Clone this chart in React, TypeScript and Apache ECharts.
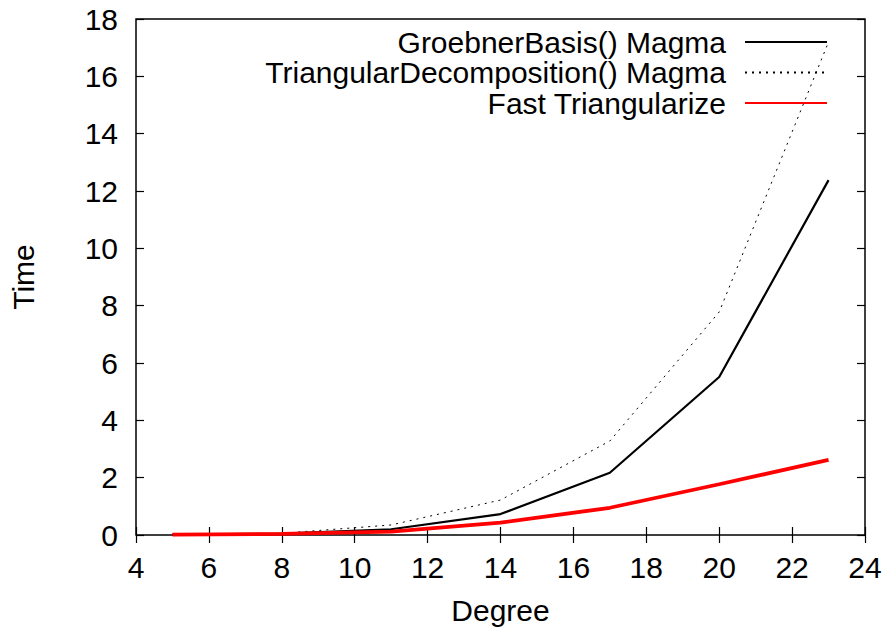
import React, { useEffect, useRef } from "react";
import * as echarts from "echarts";

// Polynomial degree of each benchmark
const degrees = [5, 8, 11, 14, 17, 20, 23];

// Running times (seconds)
const groebnerMagma = [0.01, 0.05, 0.2, 0.73, 2.17, 5.51, 12.38];
const triangularMagma = [0.01, 0.06, 0.35, 1.22, 3.28, 7.78, 17.2];
const fastTriangularize = [0.01, 0.04, 0.12, 0.43, 0.95, 1.77, 2.62];

const seriesNames = [
  "GroebnerBasis() Magma",
  "TriangularDecomposition() Magma",
  "Fast Triangularize",
];

const FONT = "Liberation Sans, Arial, Helvetica, sans-serif";

const pairs = (ys: number[]) => degrees.map((d, i) => [d, ys[i]]);

export default function App() {
  const ref = useRef<HTMLDivElement>(null);

  useEffect(() => {
    if (!ref.current) return;
    const chart = echarts.init(ref.current, undefined, { renderer: "svg" });

    const label = { fontFamily: FONT, fontSize: 30, color: "#000" };
    const tick = { inside: true, length: 8, lineStyle: { color: "#000", width: 1.2 } };
    const hiddenAxis = {
      axisLine: { show: false },
      axisLabel: { show: false },
      splitLine: { show: false },
      axisTick: tick,
    };

    chart.setOption({
      animation: false,
      backgroundColor: "#fff",
      grid: {
        left: 134,
        right: 23,
        top: 19,
        bottom: 96,
        show: true,
        borderColor: "#000",
        borderWidth: 1.5,
        backgroundColor: "transparent",
      },
      xAxis: [
        {
          type: "value",
          min: 4,
          max: 24,
          interval: 2,
          name: "Degree",
          nameLocation: "middle",
          nameGap: 60,
          nameTextStyle: label,
          axisLine: { show: false },
          axisTick: tick,
          axisLabel: { ...label, margin: 17 },
          splitLine: { show: false },
        },
        { type: "value", position: "top", min: 4, max: 24, interval: 2, ...hiddenAxis },
      ],
      yAxis: [
        {
          type: "value",
          min: 0,
          max: 18,
          interval: 2,
          name: "Time",
          nameLocation: "middle",
          nameGap: 98,
          nameRotate: 90,
          nameTextStyle: label,
          axisLine: { show: false },
          axisTick: tick,
          axisLabel: { ...label, margin: 18 },
          splitLine: { show: false },
        },
        { type: "value", position: "right", min: 0, max: 18, interval: 2, ...hiddenAxis },
      ],
      legend: {
        orient: "vertical",
        align: "right",
        right: 55,
        top: 22,
        itemWidth: 82,
        itemHeight: 14,
        itemGap: 0.5,
        data: seriesNames,
        itemStyle: { opacity: 0 },
        textStyle: { ...label, lineHeight: 30, padding: [0, 14, 0, 0] },
      },
      series: [
        {
          name: seriesNames[0],
          type: "line",
          data: pairs(groebnerMagma),
          showSymbol: false,
          symbol: "none",
          color: "#000",
          lineStyle: { color: "#000", width: 2.2 },
          z: 3,
        },
        {
          name: seriesNames[1],
          type: "line",
          data: pairs(triangularMagma),
          showSymbol: false,
          symbol: "none",
          color: "#000",
          lineStyle: { color: "#000", width: 1, type: [2, 5] },
          z: 2,
        },
        {
          name: seriesNames[2],
          type: "line",
          data: pairs(fastTriangularize),
          showSymbol: false,
          symbol: "none",
          color: "#ff0000",
          lineStyle: { color: "#ff0000", width: 3.8 },
          z: 4,
        },
      ],
    });

    return () => chart.dispose();
  }, []);

  return <div ref={ref} style={{ width: 888, height: 631, position: "absolute", left: 0, top: 0 }} />;
}
